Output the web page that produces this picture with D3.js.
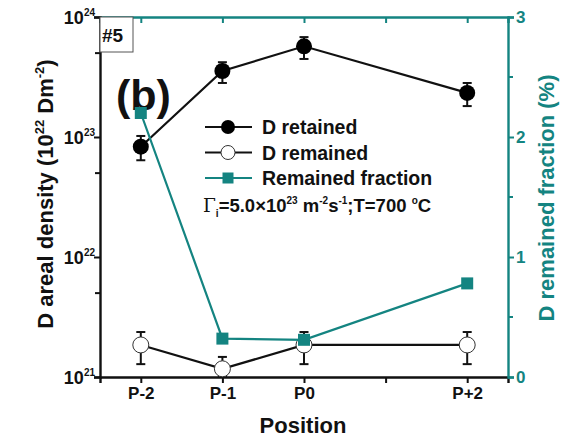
<!DOCTYPE html>
<html>
<head>
<meta charset="utf-8">
<script src="https://cdn.jsdelivr.net/npm/d3@7"></script>
<style>
  html, body { margin: 0; padding: 0; background: #fff; }
  svg { display: block; font-family: "Liberation Sans", Arial, sans-serif; font-weight: bold; }
</style>
</head>
<body>
<svg id="chart" width="567" height="439"></svg>
<script>
// Positions along the sample (P+1 has a tick but no data)
const positions = ["P-2", "P-1", "P0", "P+2"];
const positionIndex = [-2, -1, 0, 2];
const xTickValues = [-2, -1, 0, 1, 2];
const xTickLabels = ["P-2", "P-1", "P0", "", "P+2"];

// D retained (D m^-2) with lower/upper error limits
const retained = [8.3e22, 3.55e23, 5.7e23, 2.33e23];
const retainedLo = [6.4e22, 2.82e23, 4.47e23, 1.81e23];
const retainedHi = [1.02e23, 4.2e23, 6.8e23, 2.82e23];

// D remained (D m^-2) with lower/upper error limits
const remained = [1.85e21, 1.17e21, 1.85e21, 1.85e21];
const remainedLo = [1.28e21, 1.0e21, 1.28e21, 1.28e21];
const remainedHi = [2.37e21, 1.47e21, 2.37e21, 2.37e21];

// Remained fraction (%)
const fraction = [2.2, 0.32, 0.31, 0.78];

// Axis ticks
const leftMajor = [1e21, 1e22, 1e23, 1e24];
const leftMinor = [5e21, 5e22, 5e23];
const leftExp = [21, 22, 23, 24];
const rightMajor = [0, 1, 2, 3];
const rightMinor = [0.5, 1.5, 2.5];

const teal = "#148481";
const svg = d3.select("#chart");
const m = { left: 100, right: 508, top: 17, bottom: 377 };

const x = d3.scaleLinear().domain([-2.5, 2.5]).range([m.left, m.right]);
const yL = d3.scaleLog().domain([1e21, 1e24]).range([m.bottom, m.top]);
const yR = d3.scaleLinear().domain([0, 3]).range([m.bottom, m.top]);

// Bottom axis
const bottomAxis = svg.append("g").attr("transform", `translate(0,${m.bottom})`)
  .call(d3.axisBottom(x).tickValues(xTickValues).tickSize(6).tickPadding(4)
    .tickFormat((d, i) => xTickLabels[i]));
bottomAxis.select(".domain").attr("stroke", "#111").attr("stroke-width", 2.4);
bottomAxis.selectAll(".tick line").attr("stroke", "#111").attr("stroke-width", 2);
bottomAxis.selectAll(".tick text").attr("font-size", 17).attr("font-weight", "bold")
  .attr("font-family", "Liberation Sans, Arial, sans-serif").attr("fill", "#111");

// Top axis (teal frame line with inward ticks)
const topAxis = svg.append("g").attr("transform", `translate(0,${m.top})`)
  .call(d3.axisTop(x).tickValues(xTickValues).tickSize(-6).tickFormat(""));
topAxis.select(".domain").attr("stroke", teal).attr("stroke-width", 2.4);
topAxis.selectAll(".tick line").attr("stroke", teal).attr("stroke-width", 2);

// Left log axis
const leftAxis = svg.append("g").attr("transform", `translate(${m.left},0)`)
  .call(d3.axisLeft(yL).tickValues(leftMajor).tickSize(6).tickFormat(""));
leftAxis.select(".domain").attr("stroke", "#111").attr("stroke-width", 2.4);
leftAxis.selectAll(".tick line").attr("stroke", "#111").attr("stroke-width", 2);
leftAxis.selectAll(".leftMinor").data(leftMinor).enter().append("line")
  .attr("x1", -5).attr("x2", 0).attr("y1", d => yL(d)).attr("y2", d => yL(d))
  .attr("stroke", "#111").attr("stroke-width", 2);
leftMajor.forEach((v, i) => {
  const t = leftAxis.append("text").attr("x", -5).attr("y", yL(v) + 7)
    .attr("text-anchor", "end").attr("fill", "#111").attr("font-size", 18);
  t.append("tspan").text("10");
  t.append("tspan").attr("dy", -8).attr("font-size", 10).text(leftExp[i]);
});

// Right linear axis (teal)
const rightAxis = svg.append("g").attr("transform", `translate(${m.right},0)`)
  .call(d3.axisRight(yR).tickValues(rightMajor).tickSize(6).tickPadding(2).tickFormat(d3.format("d")));
rightAxis.select(".domain").attr("stroke", teal).attr("stroke-width", 2.4);
rightAxis.selectAll(".tick line").attr("stroke", teal).attr("stroke-width", 2);
rightAxis.selectAll(".tick text").attr("fill", teal).attr("font-size", 17).attr("font-weight", "bold")
  .attr("font-family", "Liberation Sans, Arial, sans-serif");
rightAxis.selectAll(".rightMinor").data(rightMinor).enter().append("line")
  .attr("x1", 0).attr("x2", 5).attr("y1", d => yR(d)).attr("y2", d => yR(d))
  .attr("stroke", teal).attr("stroke-width", 2);

// Axis titles
const yTitle = svg.append("text").attr("transform", `translate(53,194) rotate(-90)`)
  .attr("text-anchor", "middle").attr("font-size", 22).attr("fill", "#111");
yTitle.append("tspan").text("D areal density (10");
yTitle.append("tspan").attr("dy", -9).attr("font-size", 13).text("22");
yTitle.append("tspan").attr("dy", 9).text(" Dm");
yTitle.append("tspan").attr("dy", -9).attr("font-size", 13).text("-2");
yTitle.append("tspan").attr("dy", 9).text(")");

svg.append("text").attr("transform", `translate(554,198) rotate(-90)`)
  .attr("text-anchor", "middle").attr("font-size", 22).attr("fill", teal)
  .text("D remained fraction (%)");

svg.append("text").attr("x", 303).attr("y", 433)
  .attr("text-anchor", "middle").attr("font-size", 22).attr("fill", "#111").text("Position");

// "#5" box and panel label
svg.append("rect").attr("x", m.left).attr("y", m.top).attr("width", 33).attr("height", 35)
  .attr("fill", "#fff").attr("stroke", "#555").attr("stroke-width", 1);
svg.append("text").attr("x", 102).attr("y", 42).attr("font-size", 19).attr("fill", "#111").text("#5");
svg.append("text").attr("x", 116).attr("y", 110).attr("font-size", 43).attr("fill", "#111").text("(b)");

const idx = d3.range(positions.length);
const line = (yScale, vals) => d3.line().x(i => x(positionIndex[i])).y(i => yScale(vals[i]));

// Error bars
function errorBars(lo, hi) {
  const g = svg.append("g").attr("stroke", "#111").attr("stroke-width", 2).attr("fill", "none");
  idx.forEach(i => {
    const cx = x(positionIndex[i]);
    g.append("line").attr("x1", cx).attr("x2", cx).attr("y1", yL(lo[i])).attr("y2", yL(hi[i]));
    g.append("line").attr("x1", cx - 4.5).attr("x2", cx + 4.5).attr("y1", yL(lo[i])).attr("y2", yL(lo[i]));
    g.append("line").attr("x1", cx - 4.5).attr("x2", cx + 4.5).attr("y1", yL(hi[i])).attr("y2", yL(hi[i]));
  });
}
errorBars(remainedLo, remainedHi);
errorBars(retainedLo, retainedHi);

// D remained
svg.append("path").datum(idx).attr("d", line(yL, remained))
  .attr("fill", "none").attr("stroke", "#111").attr("stroke-width", 2.2);
svg.selectAll(".remPt").data(idx).enter().append("circle")
  .attr("cx", i => x(positionIndex[i])).attr("cy", i => yL(remained[i])).attr("r", 8)
  .attr("fill", "#fff").attr("stroke", "#333").attr("stroke-width", 1);

// D retained
svg.append("path").datum(idx).attr("d", line(yL, retained))
  .attr("fill", "none").attr("stroke", "#111").attr("stroke-width", 2.2);
svg.selectAll(".retPt").data(idx).enter().append("circle")
  .attr("cx", i => x(positionIndex[i])).attr("cy", i => yL(retained[i])).attr("r", 8)
  .attr("fill", "#000");

// Remained fraction
svg.append("path").datum(idx).attr("d", line(yR, fraction))
  .attr("fill", "none").attr("stroke", teal).attr("stroke-width", 2.2);
svg.selectAll(".fracPt").data(idx).enter().append("rect")
  .attr("x", i => x(positionIndex[i]) - 6).attr("y", i => yR(fraction[i]) - 6)
  .attr("width", 12).attr("height", 12).attr("fill", teal);

// Legend
const legendRows = [
  { label: "D retained", color: "#111", shape: "filled" },
  { label: "D remained", color: "#111", shape: "open" },
  { label: "Remained fraction", color: teal, shape: "square" }
];
legendRows.forEach((r, i) => {
  const y = 127 + i * 25.5;
  svg.append("line").attr("x1", 205).attr("x2", 252).attr("y1", y).attr("y2", y)
    .attr("stroke", r.color).attr("stroke-width", 2.2);
  if (r.shape === "filled") svg.append("circle").attr("cx", 228).attr("cy", y).attr("r", 7).attr("fill", "#000");
  if (r.shape === "open") svg.append("circle").attr("cx", 228).attr("cy", y).attr("r", 7)
    .attr("fill", "#fff").attr("stroke", "#333").attr("stroke-width", 1);
  if (r.shape === "square") svg.append("rect").attr("x", 222.5).attr("y", y - 5.5).attr("width", 11).attr("height", 11).attr("fill", teal);
  svg.append("text").attr("x", 262).attr("y", y + 7).attr("font-size", 19.5).attr("fill", "#111").text(r.label);
});

// Flux and temperature annotation
const note = svg.append("text").attr("x", 203).attr("y", 212).attr("font-size", 18.5).attr("fill", "#111");
note.append("tspan").attr("font-weight", "normal").attr("font-family", "DejaVu Serif, serif").text("Γ");
note.append("tspan").attr("dy", 5).attr("font-size", 10).text("i");
note.append("tspan").attr("dy", -5).text("=5.0×10");
note.append("tspan").attr("dy", -8).attr("font-size", 10).text("23");
note.append("tspan").attr("dy", 8).text(" m");
note.append("tspan").attr("dy", -8).attr("font-size", 10).text("-2");
note.append("tspan").attr("dy", 8).text("s");
note.append("tspan").attr("dy", -8).attr("font-size", 10).text("-1");
note.append("tspan").attr("dy", 8).text(";T=700 ");
note.append("tspan").attr("dy", -8).attr("font-size", 10).text("o");
note.append("tspan").attr("dy", 8).text("C");
</script>
</body>
</html>
